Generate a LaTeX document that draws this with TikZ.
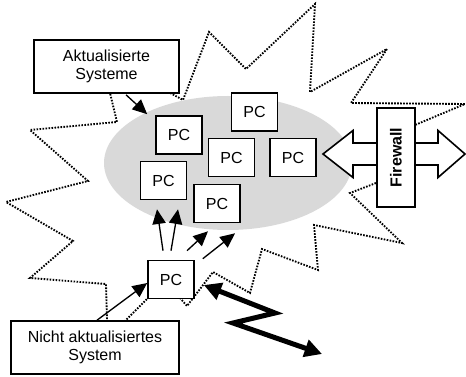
\documentclass[tikz,border=0pt]{standalone}
\usepackage{fontspec}
\setmainfont{Liberation Sans}
\usetikzlibrary{arrows.meta,calc}
\definecolor{langray}{RGB}{217,217,217}

\begin{document}
\begin{tikzpicture}[
		x=0.75pt, y=-0.75pt,
		pcbox/.style={rectangle, draw, line width=1.2pt, fill=white, minimum width=34.5pt, minimum height=28.5pt, inner sep=0pt, font=\fontsize{12}{13.5}\selectfont},
		labelbox/.style={rectangle, draw, line width=1.2pt, fill=white, minimum height=39.75pt, inner sep=0pt, align=center, font=\fontsize{12}{13.5}\selectfont},
		fwbox/.style={rectangle, draw, line width=1.2pt, fill=white, minimum width=74.25pt, minimum height=28.5pt, inner sep=0pt, rotate=90, font=\fontsize{12}{13.5}\selectfont\bfseries},
		arrow/.style={-{Triangle[length=11pt,width=10pt]}, line width=1pt},
		bolt/.style={{Triangle[length=13pt,width=13pt]}-{Triangle[length=13pt,width=13pt]}, line width=3.75pt},
		blast/.style={line width=1.4pt, dash pattern=on 1.2pt off 1.05pt}
	]
	\useasboundingbox (0,0) rectangle (466,377);
	% Explosion
	\draw[blast] (140,75) -- (110,93) -- (117,122) -- (30,130) -- (88,181) -- (6,202) -- (73,241) -- (30,278) -- (106,284) -- (107,320) -- (115,335) -- (125,321) -- (148,298) -- (170,285) -- (180,298) -- (187,306) -- (213,272) -- (250,293) -- (262,249) -- (318,270) -- (314,225) -- (402,243) -- (350,193) -- (376,183) -- (415,125) -- (465,104) -- (351,103) -- (387,49) -- (310,92) -- (315,4) -- (246,69) -- (209,32) -- (183,100) -- (172,94) -- cycle;
	% LAN
	\fill[langray] (228,163) ellipse [x radius=93pt, y radius=50.25pt];
	\draw[line width=1.2pt, fill=white] (323,154) -- (353,130.5) -- (353,143) -- (438,143) -- (438,130.5) -- (465,154) -- (438,177.5) -- (438,165) -- (353,165) -- (353,177.5) -- cycle;

	\node[labelbox, minimum width=108.75pt] (aktual) at (106.5,66.5) {Aktualisierte\\Systeme};
	\node[labelbox, minimum width=126pt] (nicht) at (95,347.5) {Nicht aktualisiertes\\System};
	\node[fwbox] (firewall) at (396,157.5) {Firewall};

	\node[pcbox] (pcA) at (179,135) {PC};
	\node[pcbox] (pcB) at (254.5,112) {PC};
	\node[pcbox] (pcC) at (231.5,157.5) {PC};
	\node[pcbox] (pcD) at (293,157.5) {PC};
	\node[pcbox] (pcE) at (163.5,180.5) {PC};
	\node[pcbox] (pcF) at (217,203.5) {PC};
	\node[pcbox] (pcX) at (171,279.5) {PC};

	\coordinate (net) at (322,354);

	\draw[arrow] ($(aktual.south)+(19.5,1)$) -- ($(pcA.north west)+(-8,-1)$);
	\draw[arrow] ($(nicht.north)+(2,0)$) -- ($(pcX.west)+(0,3.5)$);
	\draw[arrow] ($(pcX.north)+(-8,-9)$) -- ($(pcE.south)+(-6.5,9)$);
	\draw[arrow] ($(pcX.north)+(0,-9)$) -- ($(pcE.south)+(14.5,9)$);
	\draw[arrow] ($(pcX.north)+(16,-9)$) -- ($(pcF.south)+(-9,8)$);
	\draw[arrow] ($(pcX.north east)+(8,-1)$) -- ($(pcF.south)+(18,10)$);
	\draw[bolt] ($(pcX.east)+(9,5.5)$) -- (275,313) -- (233,323) -- (net);
\end{tikzpicture}
\end{document}
